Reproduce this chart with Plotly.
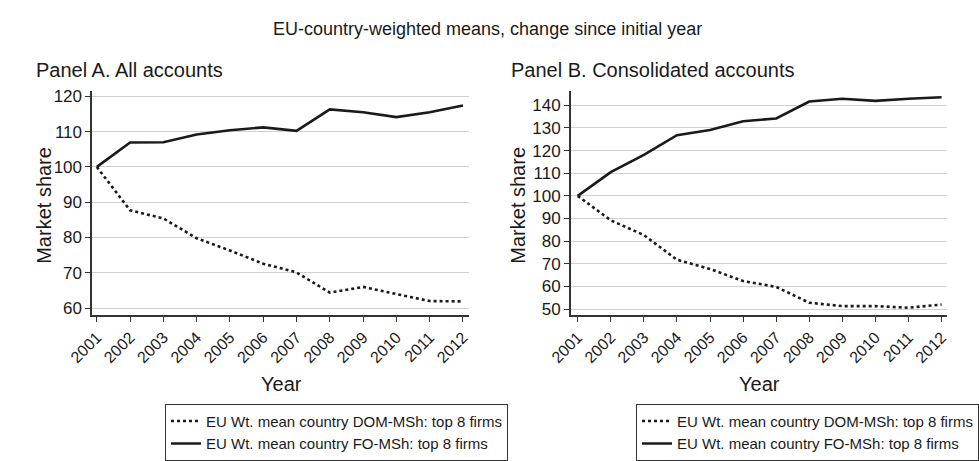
import plotly.graph_objects as go

years = list(range(2001, 2013))

# Panel A: All accounts
a_dom = [100, 87.7, 85.4, 79.8, 76.3, 72.6, 70.1, 64.4, 66.0, 64.0, 62.0, 61.9]
a_fo = [100, 106.9, 107.0, 109.2, 110.4, 111.2, 110.2, 116.3, 115.5, 114.1, 115.5, 117.4]

# Panel B: Consolidated accounts
b_dom = [100, 89.2, 82.7, 71.8, 67.7, 62.4, 59.8, 52.8, 51.3, 51.3, 50.6, 52.0]
b_fo = [100, 110.5, 118.1, 126.8, 129.1, 133.0, 134.2, 141.7, 142.9, 142.0, 142.9, 143.6]

name_dom = "EU Wt. mean country DOM-MSh: top 8 firms"
name_fo = "EU Wt. mean country FO-MSh: top 8 firms"

W, H = 979, 461
FONT = "Liberation Sans, Arial, Helvetica, sans-serif"
INK = "#1a1a1a"

def px(x):
    return x / W

def py(y):
    return 1 - y / H

fig = go.Figure()

line_w = 2.6
fig.add_trace(go.Scatter(x=years, y=a_dom, mode="lines", name=name_dom,
                         line=dict(color=INK, width=line_w, dash="dot"),
                         xaxis="x", yaxis="y", legend="legend"))
fig.add_trace(go.Scatter(x=years, y=a_fo, mode="lines", name=name_fo,
                         line=dict(color=INK, width=line_w),
                         xaxis="x", yaxis="y", legend="legend"))
fig.add_trace(go.Scatter(x=years, y=b_dom, mode="lines", name=name_dom,
                         line=dict(color=INK, width=line_w, dash="dot"),
                         xaxis="x2", yaxis="y2", legend="legend2"))
fig.add_trace(go.Scatter(x=years, y=b_fo, mode="lines", name=name_fo,
                         line=dict(color=INK, width=line_w),
                         xaxis="x2", yaxis="y2", legend="legend2"))

ydom = [py(317), py(89)]

xcommon = dict(
    tickmode="array", tickvals=years, ticktext=[str(y) for y in years],
    tickangle=-45, ticks="outside", ticklen=5, tickwidth=1.2, tickcolor="#333",
    showline=True, linecolor="#333", linewidth=1.5, showgrid=False, zeroline=False,
    tickfont=dict(family=FONT, size=16, color=INK), fixedrange=True,
)
ycommon = dict(
    dtick=10, ticks="outside", ticklen=5, tickwidth=1.2, tickcolor="#333",
    showline=True, linecolor="#333", linewidth=1.5, showgrid=True,
    gridcolor="#d0d0d0", gridwidth=1.2, zeroline=False,
    tickfont=dict(family=FONT, size=17, color=INK), fixedrange=True,
)

legcommon = dict(
    bordercolor="#333", borderwidth=1, bgcolor="white",
    font=dict(family=FONT, size=15, color=INK),
    xanchor="left", yanchor="top", tracegroupgap=0, traceorder="normal",
)

fig.update_layout(
    width=W, height=H,
    margin=dict(l=0, r=0, t=0, b=0),
    paper_bgcolor="white", plot_bgcolor="white",
    font=dict(family=FONT, color=INK),
    xaxis=dict(domain=[px(71), px(469)], range=[2000.86, 2012.17], anchor="y", **xcommon),
    yaxis=dict(domain=ydom, range=[58, 121.6], anchor="x", **ycommon),
    xaxis2=dict(domain=[px(577), px(975)], range=[2000.79, 2012.17], anchor="y2", **xcommon),
    yaxis2=dict(domain=ydom, range=[47.3, 146.5], anchor="x2", **ycommon),
    legend=dict(x=px(148), y=py(407), **legcommon),
    legend2=dict(x=px(646), y=py(407), **legcommon),
    showlegend=True,
)

ann = [
    dict(text="EU-country-weighted means, change since initial year", x=px(489), y=py(26),
         xanchor="center", yanchor="middle", font=dict(size=18)),
    dict(text="Panel A. All accounts", x=px(9), y=py(68),
         xanchor="left", yanchor="middle", font=dict(size=20)),
    dict(text="Panel B. Consolidated accounts", x=px(512), y=py(68),
         xanchor="left", yanchor="middle", font=dict(size=20)),
    dict(text="Market share", x=px(20), y=py(205), textangle=-90,
         xanchor="center", yanchor="middle", font=dict(size=20)),
    dict(text="Market share", x=px(521), y=py(205), textangle=-90,
         xanchor="center", yanchor="middle", font=dict(size=20)),
    dict(text="Year", x=px(271), y=py(387),
         xanchor="center", yanchor="middle", font=dict(size=20)),
    dict(text="Year", x=px(777), y=py(387),
         xanchor="center", yanchor="middle", font=dict(size=20)),
]
for a in ann:
    a.update(xref="paper", yref="paper", showarrow=False)
    a["font"].update(family=FONT, color=INK)
fig.update_layout(annotations=ann)

fig.write_html("out.html", config={"displayModeBar": False},
               post_script="document.body.style.margin='0';document.body.style.overflow='hidden';")
